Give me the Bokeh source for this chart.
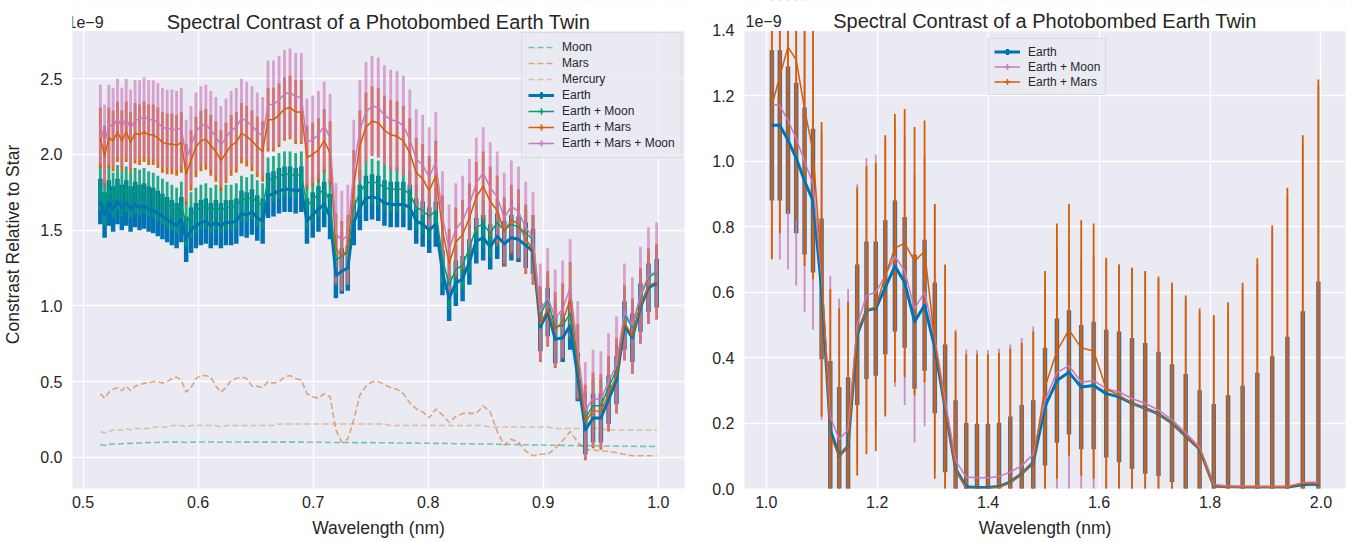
import math
from bokeh.plotting import figure
from bokeh.layouts import row
from bokeh.models import (Range1d, FixedTicker, PrintfTickFormatter, Label, Legend,
                          LegendItem)
from bokeh.embed import file_html
from bokeh.resources import INLINE

# ---------------- visible band (left panel), contrast in units of 1e-9 ----------------
wl_vis = [0.5150, 0.5187, 0.5224, 0.5261, 0.5299, 0.5337, 0.5375, 0.5413, 0.5452, 0.5491,
          0.5530, 0.5570, 0.5610, 0.5650, 0.5690, 0.5731, 0.5772, 0.5813, 0.5854, 0.5896,
          0.5938, 0.5981, 0.6024, 0.6067, 0.6110, 0.6154, 0.6198, 0.6242, 0.6287, 0.6332,
          0.6377, 0.6422, 0.6468, 0.6514, 0.6561, 0.6608, 0.6655, 0.6703, 0.6751, 0.6799,
          0.6848, 0.6897, 0.6946, 0.6996, 0.7046, 0.7096, 0.7147, 0.7198, 0.7249, 0.7301,
          0.7353, 0.7406, 0.7459, 0.7512, 0.7566, 0.7620, 0.7674, 0.7729, 0.7784, 0.7840,
          0.7896, 0.7952, 0.8009, 0.8066, 0.8124, 0.8182, 0.8240, 0.8299, 0.8358, 0.8418,
          0.8478, 0.8539, 0.8600, 0.8661, 0.8723, 0.8785, 0.8848, 0.8911, 0.8975, 0.9039,
          0.9104, 0.9169, 0.9234, 0.9300, 0.9366, 0.9433, 0.9501, 0.9568, 0.9637, 0.9706,
          0.9775, 0.9845, 0.9915, 0.9986]

moon_vis = [0.085, 0.078, 0.085, 0.088, 0.090, 0.090, 0.092, 0.092, 0.094, 0.095,
            0.096, 0.097, 0.098, 0.098, 0.099, 0.100, 0.100, 0.100, 0.100, 0.098,
            0.100, 0.100, 0.101, 0.101, 0.101, 0.100, 0.099, 0.100, 0.101, 0.101,
            0.101, 0.100, 0.100, 0.100, 0.100, 0.100, 0.100, 0.100, 0.100, 0.100,
            0.100, 0.100, 0.099, 0.099, 0.099, 0.099, 0.098, 0.098, 0.098, 0.098,
            0.097, 0.097, 0.097, 0.097, 0.096, 0.096, 0.096, 0.095, 0.095, 0.094,
            0.094, 0.093, 0.093, 0.092, 0.092, 0.091, 0.090, 0.090, 0.089, 0.088,
            0.088, 0.087, 0.086, 0.085, 0.085, 0.084, 0.083, 0.082, 0.081, 0.080,
            0.080, 0.079, 0.078, 0.077, 0.077, 0.076, 0.075, 0.075, 0.074, 0.073,
            0.073, 0.072, 0.072, 0.071]

mars_vis = [0.42, 0.39, 0.43, 0.45, 0.46, 0.44, 0.47, 0.44, 0.47, 0.48,
            0.49, 0.49, 0.50, 0.50, 0.49, 0.50, 0.52, 0.53, 0.51, 0.43,
            0.46, 0.52, 0.54, 0.54, 0.53, 0.47, 0.43, 0.46, 0.51, 0.52,
            0.53, 0.52, 0.47, 0.47, 0.46, 0.50, 0.49, 0.50, 0.53, 0.54,
            0.52, 0.51, 0.42, 0.40, 0.39, 0.42, 0.40, 0.18, 0.10, 0.12,
            0.25, 0.41, 0.47, 0.50, 0.50, 0.48, 0.46, 0.45, 0.42, 0.36,
            0.32, 0.30, 0.26, 0.32, 0.28, 0.23, 0.27, 0.29, 0.29, 0.29,
            0.34, 0.30, 0.17, 0.08, 0.12, 0.10, 0.04, 0.01, 0.02, 0.02,
            0.06, 0.11, 0.17, 0.10, 0.05, 0.05, 0.04, 0.04, 0.03, 0.02,
            0.01, 0.01, 0.01, 0.01]

mercury_vis = [0.17, 0.16, 0.17, 0.18, 0.18, 0.18, 0.19, 0.18, 0.19, 0.19,
               0.19, 0.19, 0.20, 0.20, 0.20, 0.20, 0.21, 0.21, 0.21, 0.20,
               0.21, 0.21, 0.21, 0.21, 0.21, 0.21, 0.20, 0.21, 0.21, 0.21,
               0.21, 0.21, 0.21, 0.21, 0.21, 0.21, 0.21, 0.22, 0.22, 0.22,
               0.22, 0.22, 0.22, 0.22, 0.22, 0.22, 0.22, 0.22, 0.22, 0.22,
               0.22, 0.22, 0.22, 0.22, 0.22, 0.22, 0.21, 0.21, 0.21, 0.21,
               0.21, 0.21, 0.21, 0.21, 0.21, 0.21, 0.21, 0.21, 0.21, 0.21,
               0.21, 0.20, 0.20, 0.20, 0.20, 0.20, 0.20, 0.20, 0.20, 0.20,
               0.19, 0.19, 0.19, 0.19, 0.19, 0.19, 0.19, 0.18, 0.18, 0.18,
               0.18, 0.18, 0.18, 0.18]

earth_vis = [1.69, 1.60, 1.68, 1.64, 1.69, 1.65, 1.68, 1.64, 1.67, 1.65,
             1.66, 1.64, 1.63, 1.61, 1.59, 1.57, 1.55, 1.53, 1.57, 1.44,
             1.50, 1.53, 1.55, 1.56, 1.53, 1.55, 1.53, 1.55, 1.55, 1.56,
             1.61, 1.60, 1.62, 1.58, 1.56, 1.73, 1.74, 1.76, 1.77, 1.77,
             1.76, 1.77, 1.56, 1.60, 1.64, 1.67, 1.59, 1.20, 1.23, 1.25,
             1.55, 1.65, 1.71, 1.72, 1.71, 1.68, 1.67, 1.67, 1.67, 1.65,
             1.56, 1.54, 1.50, 1.54, 1.22, 1.05, 1.15, 1.18, 1.29, 1.43,
             1.45, 1.39, 1.46, 1.41, 1.45, 1.44, 1.40, 1.36, 0.86, 0.96,
             0.78, 0.79, 0.87, 0.53, 0.18, 0.26, 0.26, 0.38, 0.51, 0.87,
             0.79, 0.99, 1.12, 1.15]

earth_moon_vis = [1.78, 1.68, 1.77, 1.73, 1.78, 1.74, 1.77, 1.73, 1.76, 1.75,
                  1.76, 1.74, 1.73, 1.71, 1.69, 1.67, 1.65, 1.63, 1.67, 1.54,
                  1.60, 1.63, 1.65, 1.66, 1.63, 1.65, 1.63, 1.65, 1.65, 1.66,
                  1.71, 1.70, 1.72, 1.68, 1.66, 1.83, 1.84, 1.86, 1.87, 1.87,
                  1.86, 1.87, 1.66, 1.70, 1.74, 1.77, 1.69, 1.30, 1.33, 1.35,
                  1.65, 1.75, 1.81, 1.82, 1.81, 1.78, 1.77, 1.77, 1.77, 1.74,
                  1.65, 1.63, 1.59, 1.63, 1.31, 1.14, 1.24, 1.27, 1.38, 1.52,
                  1.54, 1.48, 1.55, 1.50, 1.54, 1.52, 1.48, 1.44, 0.94, 1.04,
                  0.86, 0.87, 0.95, 0.61, 0.26, 0.34, 0.34, 0.46, 0.58, 0.94,
                  0.86, 1.06, 1.19, 1.22]

earth_mars_vis = [2.11, 1.99, 2.11, 2.09, 2.15, 2.09, 2.15, 2.08, 2.14, 2.13,
                  2.15, 2.13, 2.13, 2.11, 2.08, 2.07, 2.07, 2.06, 2.08, 1.87,
                  1.96, 2.05, 2.09, 2.10, 2.06, 2.02, 1.96, 2.01, 2.06, 2.08,
                  2.14, 2.12, 2.09, 2.05, 2.02, 2.23, 2.23, 2.26, 2.30, 2.31,
                  2.28, 2.28, 1.98, 2.00, 2.03, 2.09, 2.01, 1.38, 1.33, 1.37,
                  1.80, 2.06, 2.18, 2.22, 2.21, 2.16, 2.13, 2.12, 2.09, 2.01,
                  1.88, 1.84, 1.76, 1.86, 1.50, 1.28, 1.42, 1.47, 1.58, 1.72,
                  1.79, 1.69, 1.63, 1.49, 1.57, 1.54, 1.44, 1.37, 0.88, 0.98,
                  0.84, 0.90, 1.04, 0.63, 0.23, 0.31, 0.30, 0.42, 0.54, 0.89,
                  0.80, 1.00, 1.13, 1.16]

earth_mars_moon_vis = [2.20, 2.07, 2.20, 2.18, 2.24, 2.18, 2.24, 2.17, 2.23, 2.23,
                       2.25, 2.23, 2.23, 2.21, 2.18, 2.17, 2.17, 2.16, 2.18, 1.97,
                       2.06, 2.15, 2.19, 2.20, 2.16, 2.12, 2.06, 2.11, 2.16, 2.18,
                       2.24, 2.22, 2.19, 2.15, 2.12, 2.33, 2.33, 2.36, 2.40, 2.41,
                       2.38, 2.38, 2.08, 2.10, 2.13, 2.19, 2.11, 1.48, 1.43, 1.47,
                       1.90, 2.16, 2.28, 2.32, 2.31, 2.26, 2.23, 2.22, 2.19, 2.10,
                       1.97, 1.93, 1.85, 1.95, 1.59, 1.37, 1.51, 1.56, 1.67, 1.81,
                       1.88, 1.78, 1.72, 1.58, 1.66, 1.62, 1.52, 1.45, 0.96, 1.06,
                       0.92, 0.98, 1.12, 0.71, 0.31, 0.39, 0.38, 0.50, 0.61, 0.96,
                       0.87, 1.07, 1.20, 1.23]

earth_err_vis = [0.15, 0.15, 0.15, 0.15, 0.15, 0.15, 0.15, 0.15, 0.15, 0.15,
                 0.15, 0.15, 0.15, 0.15, 0.15, 0.15, 0.15, 0.15, 0.15, 0.15,
                 0.15, 0.15, 0.15, 0.15, 0.15, 0.15, 0.15, 0.15, 0.15, 0.15,
                 0.15, 0.15, 0.15, 0.15, 0.15, 0.15, 0.15, 0.15, 0.15, 0.15,
                 0.15, 0.15, 0.15, 0.15, 0.15, 0.15, 0.15, 0.15, 0.15, 0.15,
                 0.15, 0.15, 0.15, 0.15, 0.15, 0.15, 0.15, 0.15, 0.15, 0.15,
                 0.15, 0.15, 0.15, 0.15, 0.15, 0.15, 0.15, 0.15, 0.15, 0.15,
                 0.15, 0.15, 0.15, 0.15, 0.15, 0.15, 0.15, 0.15, 0.16, 0.16,
                 0.16, 0.16, 0.16, 0.16, 0.16, 0.16, 0.16, 0.16, 0.16, 0.16,
                 0.16, 0.16, 0.16, 0.16]

earth_moon_err_vis = [0.15, 0.15, 0.15, 0.15, 0.15, 0.15, 0.15, 0.15, 0.15, 0.15,
                      0.15, 0.15, 0.15, 0.15, 0.15, 0.15, 0.15, 0.15, 0.15, 0.15,
                      0.15, 0.15, 0.15, 0.15, 0.15, 0.15, 0.15, 0.15, 0.15, 0.15,
                      0.15, 0.15, 0.15, 0.15, 0.15, 0.15, 0.15, 0.15, 0.15, 0.15,
                      0.15, 0.15, 0.15, 0.15, 0.15, 0.15, 0.15, 0.16, 0.16, 0.16,
                      0.15, 0.15, 0.15, 0.15, 0.15, 0.15, 0.15, 0.15, 0.15, 0.15,
                      0.15, 0.15, 0.15, 0.15, 0.16, 0.16, 0.16, 0.16, 0.16, 0.16,
                      0.16, 0.16, 0.16, 0.16, 0.16, 0.16, 0.16, 0.16, 0.17, 0.17,
                      0.17, 0.17, 0.17, 0.17, 0.17, 0.17, 0.17, 0.17, 0.17, 0.17,
                      0.17, 0.17, 0.17, 0.17]

earth_mars_err_vis = [0.20, 0.20, 0.20, 0.20, 0.20, 0.20, 0.20, 0.20, 0.20, 0.20,
                      0.20, 0.20, 0.20, 0.20, 0.20, 0.20, 0.20, 0.20, 0.20, 0.20,
                      0.20, 0.20, 0.20, 0.20, 0.20, 0.20, 0.20, 0.20, 0.20, 0.20,
                      0.20, 0.20, 0.20, 0.20, 0.20, 0.21, 0.21, 0.21, 0.21, 0.21,
                      0.21, 0.21, 0.21, 0.21, 0.21, 0.21, 0.21, 0.23, 0.23, 0.23,
                      0.23, 0.23, 0.23, 0.23, 0.23, 0.23, 0.23, 0.23, 0.23, 0.23,
                      0.23, 0.23, 0.23, 0.23, 0.23, 0.23, 0.23, 0.23, 0.23, 0.23,
                      0.23, 0.23, 0.23, 0.23, 0.23, 0.23, 0.23, 0.23, 0.25, 0.25,
                      0.25, 0.25, 0.25, 0.25, 0.25, 0.25, 0.25, 0.25, 0.25, 0.25,
                      0.25, 0.25, 0.25, 0.25]

earth_mars_moon_err_vis = [0.26, 0.26, 0.26, 0.26, 0.26, 0.26, 0.26, 0.26, 0.26, 0.26,
                           0.26, 0.26, 0.26, 0.26, 0.26, 0.26, 0.26, 0.26, 0.26, 0.26,
                           0.26, 0.26, 0.26, 0.26, 0.26, 0.26, 0.26, 0.26, 0.26, 0.26,
                           0.26, 0.26, 0.26, 0.26, 0.26, 0.29, 0.29, 0.29, 0.29, 0.29,
                           0.29, 0.29, 0.29, 0.29, 0.29, 0.29, 0.29, 0.33, 0.33, 0.33,
                           0.33, 0.33, 0.33, 0.33, 0.33, 0.33, 0.33, 0.33, 0.33, 0.33,
                           0.33, 0.33, 0.33, 0.33, 0.30, 0.30, 0.30, 0.30, 0.30, 0.30,
                           0.30, 0.30, 0.30, 0.30, 0.30, 0.30, 0.30, 0.30, 0.32, 0.32,
                           0.32, 0.32, 0.32, 0.32, 0.32, 0.32, 0.32, 0.32, 0.32, 0.32,
                           0.32, 0.32, 0.32, 0.32]

# ---------------- near-infrared band (right panel) ----------------
wl_nir = [1.0100, 1.0244, 1.0391, 1.0539, 1.0690, 1.0842, 1.0997, 1.1154, 1.1314, 1.1475,
          1.1639, 1.1806, 1.1974, 1.2145, 1.2319, 1.2495, 1.2673, 1.2854, 1.3038, 1.3224,
          1.3413, 1.3605, 1.3799, 1.3996, 1.4196, 1.4399, 1.4605, 1.4813, 1.5025, 1.5240,
          1.5457, 1.5678, 1.5902, 1.6129, 1.6360, 1.6594, 1.6831, 1.7071, 1.7315, 1.7562,
          1.7813, 1.8068, 1.8326, 1.8588, 1.8853, 1.9122, 1.9395, 1.9673, 1.9954]

earth_nir = [1.11, 1.11, 1.065, 1.01, 0.94, 0.88, 0.61, 0.18, 0.10, 0.13,
             0.47, 0.545, 0.55, 0.615, 0.68, 0.63, 0.51, 0.56, 0.43, 0.245,
             0.06, 0.005, 0.003, 0.003, 0.006, 0.02, 0.045, 0.08, 0.25, 0.33,
             0.355, 0.31, 0.315, 0.29, 0.28, 0.26, 0.245, 0.228, 0.20, 0.16,
             0.12, 0.008, 0.005, 0.004, 0.004, 0.004, 0.004, 0.012, 0.013]

earth_moon_nir = [1.175, 1.17, 1.125, 1.07, 1.0, 0.93, 0.65, 0.22, 0.15, 0.18,
                  0.50, 0.59, 0.60, 0.65, 0.71, 0.665, 0.55, 0.60, 0.46, 0.27,
                  0.085, 0.035, 0.033, 0.033, 0.037, 0.05, 0.07, 0.105, 0.27, 0.355,
                  0.375, 0.325, 0.33, 0.305, 0.295, 0.275, 0.26, 0.24, 0.21, 0.17,
                  0.125, 0.012, 0.008, 0.007, 0.007, 0.006, 0.006, 0.018, 0.02]

earth_mars_nir = [1.17, 1.26, 1.35, 1.31, 1.16, 1.03, 0.67, 0.16, 0.10, 0.13,
                  0.48, 0.545, 0.555, 0.65, 0.735, 0.75, 0.695, 0.725, 0.45, 0.245,
                  0.06, 0.0, 0.0, 0.0, 0.004, 0.018, 0.045, 0.08, 0.31, 0.42,
                  0.485, 0.43, 0.42, 0.305, 0.285, 0.26, 0.245, 0.228, 0.20, 0.16,
                  0.12, 0.005, 0.004, 0.004, 0.004, 0.004, 0.004, 0.015, 0.015]

earth_err_nir = [0.23, 0.23, 0.225, 0.23, 0.225, 0.22, 0.215, 0.21, 0.21, 0.21,
                 0.215, 0.21, 0.205, 0.205, 0.20, 0.20, 0.205, 0.20, 0.20, 0.195,
                 0.21, 0.195, 0.195, 0.195, 0.195, 0.20, 0.21, 0.19, 0.18, 0.19,
                 0.19, 0.19, 0.195, 0.195, 0.20, 0.20, 0.20, 0.19, 0.18, 0.19,
                 0.18, 0.25, 0.28, 0.31, 0.35, 0.40, 0.46, 0.53, 0.62]

earth_moon_err_nir = [0.47, 0.47, 0.455, 0.45, 0.46, 0.445, 0.44, 0.43, 0.43, 0.43,
                      0.43, 0.42, 0.42, 0.41, 0.40, 0.41, 0.41, 0.41, 0.41, 0.41,
                      0.40, 0.39, 0.39, 0.39, 0.39, 0.39, 0.39, 0.39, 0.36, 0.38,
                      0.38, 0.38, 0.38, 0.39, 0.39, 0.40, 0.40, 0.40, 0.41, 0.41,
                      0.41, 0.50, 0.54, 0.60, 0.68, 0.78, 0.89, 1.04, 1.21]

earth_mars_err_nir = [0.47, 0.48, 0.50, 0.49, 0.48, 0.39, 0.45, 0.45, 0.45, 0.44,
                      0.44, 0.44, 0.44, 0.43, 0.41, 0.41, 0.41, 0.40, 0.42, 0.44,
                      0.42, 0.41, 0.41, 0.41, 0.41, 0.41, 0.40, 0.40, 0.355, 0.39,
                      0.385, 0.39, 0.39, 0.40, 0.40, 0.415, 0.42, 0.42, 0.43, 0.43,
                      0.43, 0.525, 0.565, 0.625, 0.70, 0.80, 0.915, 1.065, 1.235]

ticks_x_vis = [0.5, 0.6, 0.7, 0.8, 0.9, 1.0]
ticks_y_vis = [0.0, 0.5, 1.0, 1.5, 2.0, 2.5]
ticks_x_nir = [1.0, 1.2, 1.4, 1.6, 1.8, 2.0]
ticks_y_nir = [0.0, 0.2, 0.4, 0.6, 0.8, 1.0, 1.2, 1.4]

TITLE = "Spectral Contrast of a Photobombed Earth Twin"
OFFSET_TEXT = "1e\u22129"

# ---------------- styling ----------------
BG = "#eaeaf2"
TXT = "#262626"
FONT = "Liberation Sans"
C_BLUE = "#0173b2"
C_GREEN = "#029e73"
C_VERM = "#d55e00"
C_PINK = "#cc78bc"
C_TAN = "#ca9161"
DASH = "6 3"


def make_fig(width, xr, y_lo, y_frame_top, xticks, yticks, mb_left, mb_right):
    """The frame also covers a strip above the axes box, in which the title and
    the offset text are written; finish_fig() paints that strip white."""
    p = figure(width=width, height=542, x_range=Range1d(*xr), y_range=Range1d(y_lo, y_frame_top),
               output_backend="svg", toolbar_location=None, title=None,
               min_border_left=mb_left, min_border_right=mb_right,
               min_border_top=0, min_border_bottom=54)
    p.background_fill_color = BG
    p.border_fill_color = "white"
    p.outline_line_color = None
    p.xaxis.ticker = FixedTicker(ticks=xticks)
    p.yaxis.ticker = FixedTicker(ticks=yticks)
    p.xgrid.ticker = FixedTicker(ticks=xticks)
    p.ygrid.ticker = FixedTicker(ticks=yticks)
    p.xaxis.formatter = PrintfTickFormatter(format="%.1f")
    p.yaxis.formatter = PrintfTickFormatter(format="%.1f")
    for ax in p.axis:
        ax.axis_line_color = None
        ax.major_tick_line_color = None
        ax.minor_tick_line_color = None
        ax.major_tick_out = 0
        ax.major_tick_in = 0
        ax.minor_tick_out = 0
        ax.major_label_text_font = FONT
        ax.major_label_text_font_size = "16px"
        ax.major_label_text_color = TXT
        ax.axis_label_text_font = FONT
        ax.axis_label_text_font_size = "17.5px"
        ax.axis_label_text_font_style = "normal"
        ax.axis_label_text_color = TXT
    p.xaxis.major_label_standoff = 7
    p.xaxis.axis_label_standoff = 7
    p.yaxis.major_label_standoff = 10
    p.yaxis.axis_label_standoff = 14
    p.xaxis.axis_label = "Wavelength (nm)"
    p.grid.grid_line_color = "white"
    p.grid.grid_line_width = 1.3
    return p


def finish_fig(p, xr, y_axes_top, y_frame_top, off_dx):
    # white strip above the axes box, drawn after all data glyphs
    p.quad(left=[xr[0]], right=[xr[1]], bottom=[y_axes_top], top=[y_frame_top],
           fill_color="white", fill_alpha=1.0, line_color="white", line_width=1)
    p.add_layout(Label(x=(xr[0] + xr[1]) / 2, y=y_axes_top, y_offset=9, text=TITLE,
                       text_font=FONT, text_font_size="20px", text_color=TXT,
                       text_baseline="alphabetic", text_align="center"))
    p.add_layout(Label(x=xr[0], y=y_axes_top, x_offset=off_dx, y_offset=9, text=OFFSET_TEXT,
                       text_font=FONT, text_font_size="16px", text_color=TXT,
                       text_baseline="alphabetic", text_align="left"))


def err_bars(p, xs, vals, errs, color, width, alpha):
    lo = [v - e for v, e in zip(vals, errs)]
    hi = [v + e for v, e in zip(vals, errs)]
    return p.segment(x0=xs, y0=lo, x1=xs, y1=hi, line_color=color,
                     line_width=width, line_alpha=alpha)


def cross_key(p, xs, vals, color, width):
    # zero-size markers: only used to draw the "+" key glyph in the legend
    return p.scatter(x=xs, y=vals, marker="cross", size=0, line_color=color, line_width=width)


def style_legend(lg, row_h, pad):
    lg.label_text_font = FONT
    lg.label_text_font_size = "12px"
    lg.label_text_color = TXT
    lg.glyph_width = 26
    lg.glyph_height = row_h
    lg.label_height = row_h
    lg.label_standoff = 8
    lg.spacing = 0
    lg.padding = pad
    lg.margin = 0
    lg.background_fill_color = BG
    lg.background_fill_alpha = 0.85
    lg.border_line_color = "#cccccc"
    lg.border_line_width = 1


# ---------------- left panel ----------------
XR_VIS = (0.4908, 1.0228)
Y_TOP_VIS = 2.818
Y_FRAME_VIS = 3.017
p1 = make_fig(708, XR_VIS, -0.206, Y_FRAME_VIS, ticks_x_vis, ticks_y_vis, 72, 24)
p1.yaxis.axis_label = "Constrast Relative to Star"

r_moon = p1.line(wl_vis, moon_vis, line_color=C_GREEN, line_alpha=0.5, line_width=1.6, line_dash=DASH)
r_mars = p1.line(wl_vis, mars_vis, line_color=C_VERM, line_alpha=0.5, line_width=1.6, line_dash=DASH)
r_merc = p1.line(wl_vis, mercury_vis, line_color=C_TAN, line_alpha=0.5, line_width=1.6, line_dash=DASH)

err_bars(p1, wl_vis, earth_vis, earth_err_vis, C_BLUE, 4.5, 1.0)
err_bars(p1, wl_vis, earth_moon_vis, earth_moon_err_vis, C_GREEN, 2.8, 0.85)
err_bars(p1, wl_vis, earth_mars_vis, earth_mars_err_vis, C_VERM, 2.8, 0.9)
err_bars(p1, wl_vis, earth_mars_moon_vis, earth_mars_moon_err_vis, C_PINK, 2.8, 0.65)

l_e = p1.line(wl_vis, earth_vis, line_color=C_BLUE, line_width=3, line_join="round")
l_em = p1.line(wl_vis, earth_moon_vis, line_color=C_GREEN, line_width=1.5, line_join="round")
l_ema = p1.line(wl_vis, earth_mars_vis, line_color=C_VERM, line_width=1.5, line_join="round")
l_emm = p1.line(wl_vis, earth_mars_moon_vis, line_color=C_PINK, line_width=1.5, line_join="round")

k_e = cross_key(p1, wl_vis, earth_vis, C_BLUE, 3)
k_em = cross_key(p1, wl_vis, earth_moon_vis, C_GREEN, 1.5)
k_ema = cross_key(p1, wl_vis, earth_mars_vis, C_VERM, 1.5)
k_emm = cross_key(p1, wl_vis, earth_mars_moon_vis, C_PINK, 1.5)

finish_fig(p1, XR_VIS, Y_TOP_VIS, Y_FRAME_VIS, -5)

lg1 = Legend(items=[
    LegendItem(label="Moon", renderers=[r_moon]),
    LegendItem(label="Mars", renderers=[r_mars]),
    LegendItem(label="Mercury", renderers=[r_merc]),
    LegendItem(label="Earth", renderers=[l_e, k_e]),
    LegendItem(label="Earth + Moon", renderers=[l_em, k_em]),
    LegendItem(label="Earth + Mars", renderers=[l_ema, k_ema]),
    LegendItem(label="Earth + Mars + Moon", renderers=[l_emm, k_emm]),
], location=(449, 330))
style_legend(lg1, 16, 6)
p1.add_layout(lg1)

# ---------------- right panel ----------------
XR_NIR = (0.9607, 2.0443)
Y_TOP_NIR = 1.4
Y_FRAME_NIR = 1.4917
p2 = make_fig(649, XR_NIR, 0.0, Y_FRAME_NIR, ticks_x_nir, ticks_y_nir, 36, 12)

err_bars(p2, wl_nir, earth_nir, earth_err_nir, "#5d6b79", 4.5, 1.0)
err_bars(p2, wl_nir, earth_moon_nir, earth_moon_err_nir, C_PINK, 1.8, 0.85)
err_bars(p2, wl_nir, earth_mars_nir, earth_mars_err_nir, C_VERM, 1.8, 1.0)

m_e = p2.line(wl_nir, earth_nir, line_color=C_BLUE, line_width=3, line_join="round")
m_em = p2.line(wl_nir, earth_moon_nir, line_color=C_PINK, line_width=1.5, line_join="round")
m_ema = p2.line(wl_nir, earth_mars_nir, line_color=C_VERM, line_width=1.5, line_join="round")

q_e = cross_key(p2, wl_nir, earth_nir, C_BLUE, 3)
q_em = cross_key(p2, wl_nir, earth_moon_nir, C_PINK, 1.5)
q_ema = cross_key(p2, wl_nir, earth_mars_nir, C_VERM, 1.5)

finish_fig(p2, XR_NIR, Y_TOP_NIR, Y_FRAME_NIR, 1)

lg2 = Legend(items=[
    LegendItem(label="Earth", renderers=[m_e, q_e]),
    LegendItem(label="Earth + Moon", renderers=[m_em, q_em]),
    LegendItem(label="Earth + Mars", renderers=[m_ema, q_ema]),
], location=(244, 393))
style_legend(lg2, 15, 5)
p2.add_layout(lg2)

layout = row(p1, p2)
open("out.html", "w").write(file_html(layout, INLINE))
